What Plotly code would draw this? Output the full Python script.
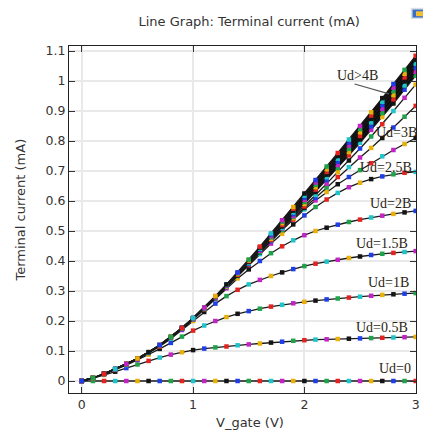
import plotly.graph_objects as go

# ---------------- data ----------------
V_GATE = [0.0, 0.1, 0.2, 0.3, 0.4, 0.5, 0.6, 0.7, 0.8, 0.9, 1.0,
          1.1, 1.2, 1.3, 1.4, 1.5, 1.6, 1.7, 1.8, 1.9, 2.0,
          2.1, 2.2, 2.3, 2.4, 2.5, 2.6, 2.7, 2.8, 2.9, 3.0]

UD_0 = [0, 0, 0, 0, 0, 0, 0, 0, 0, 0, 0, 0, 0, 0, 0, 0,
        0, 0, 0, 0, 0, 0, 0, 0, 0, 0, 0, 0, 0, 0, 0]
UD_0_5 = [0, .009, .020, .031, .043, .055, .067, .078, .088, .096, .103,
          .108, .112, .115, .119, .122, .125, .128, .131, .134, .136,
          .138, .139, .140, .141, .142, .143, .144, .145, .146, .147]
UD_1 = [0, .010, .023, .037, .053, .070, .088, .107, .127, .148, .168,
        .185, .200, .213, .224, .233, .241, .248, .254, .259, .264,
        .268, .272, .275, .278, .281, .284, .287, .289, .291, .293]
UD_1_5 = [0, .010, .023, .038, .055, .073, .093, .115, .141, .170, .200,
          .230, .258, .283, .304, .322, .337, .350, .362, .373, .383,
          .391, .398, .404, .410, .415, .420, .424, .427, .430, .433]
UD_2 = [0, .010, .024, .039, .056, .074, .094, .117, .144, .173, .205,
        .240, .275, .309, .342, .372, .400, .426, .449, .469, .486,
        .500, .511, .521, .530, .538, .545, .551, .557, .562, .567]
UD_2_5 = [0, .010, .024, .039, .056, .074, .095, .118, .145, .174, .206,
          .240, .276, .313, .350, .387, .423, .458, .491, .522, .552,
          .580, .605, .627, .646, .661, .673, .682, .689, .694, .697]
UD_3 = [0, .010, .024, .040, .056, .075, .095, .118, .145, .175, .207,
        .241, .277, .315, .353, .391, .429, .466, .503, .538, .572,
        .602, .630, .656, .680, .703, .726, .749, .770, .790, .810]
UD_3_5 = [0, .010, .024, .040, .057, .075, .095, .119, .146, .175, .208,
          .242, .278, .316, .354, .393, .432, .470, .508, .543, .577,
          .611, .645, .680, .713, .745, .777, .810, .845, .881, .917]
UD_4 = [0, .010, .024, .040, .057, .075, .096, .119, .146, .176, .208,
        .243, .279, .317, .356, .395, .434, .473, .511, .547, .582,
        .620, .658, .696, .735, .775, .815, .856, .900, .944, .988]
# Ud > 4 B : bundle of curves
UD_GT4_A = [0, .010, .024, .040, .057, .075, .096, .119, .146, .176, .209,
            .243, .278, .314, .352, .390, .430, .470, .510, .550, .590,
            .630, .670, .710, .752, .794, .837, .880, .925, .971, 1.018]
UD_GT4_B = [0, .010, .024, .040, .057, .075, .096, .120, .147, .177, .209,
            .244, .280, .316, .354, .393, .434, .474, .515, .556, .597,
            .638, .679, .720, .763, .805, .849, .893, .939, .985, 1.031]
UD_GT4_C = [0, .010, .024, .040, .057, .075, .096, .120, .147, .177, .210,
            .244, .281, .318, .357, .397, .438, .479, .520, .562, .604,
            .646, .688, .731, .774, .817, .862, .907, .953, .999, 1.045]
UD_GT4_D = [0, .010, .024, .040, .057, .075, .096, .120, .147, .177, .210,
            .245, .282, .320, .359, .400, .441, .483, .526, .568, .611,
            .654, .697, .741, .785, .829, .874, .920, .966, 1.012, 1.058]
UD_GT4_E = [0, .010, .024, .040, .057, .075, .096, .120, .147, .177, .210,
            .245, .283, .321, .361, .402, .445, .488, .531, .574, .618,
            .662, .706, .750, .795, .840, .885, .931, .978, 1.024, 1.071]
UD_GT4_F = [0, .010, .024, .040, .057, .075, .096, .120, .147, .177, .210,
            .245, .283, .322, .362, .405, .448, .492, .536, .580, .625,
            .670, .715, .760, .805, .850, .896, .943, .990, 1.037, 1.084]

CURVES = [UD_0, UD_0_5, UD_1, UD_1_5, UD_2, UD_2_5, UD_3, UD_3_5, UD_4,
          UD_GT4_A, UD_GT4_B, UD_GT4_C, UD_GT4_D, UD_GT4_E, UD_GT4_F]

LABELS = ["Ud>4B", "Ud=3B", "Ud=2.5B", "Ud=2B", "Ud=1.5B", "Ud=1B", "Ud=0.5B", "Ud=0"]
LABEL_X = [2.478, 2.832, 2.735, 2.77, 2.70, 2.752, 2.70, 2.814]
LABEL_Y = [1.017, 0.830, 0.713, 0.593, 0.460, 0.327, 0.180, 0.043]

X_TICKS = [0, 1, 2, 3]
Y_TICKS = [0, 0.1, 0.2, 0.3, 0.4, 0.5, 0.6, 0.7, 0.8, 0.9, 1.0, 1.1]

# ---------------- styling ----------------
CYCLE = ["#1f3fe6", "#1ea34a", "#e3231f", "#1fc4c8", "#c123c4", "#e8b00a", "#141414"]

fig = go.Figure()

# solid dark band behind the Ud>4 bundle
fig.add_trace(go.Scatter(x=V_GATE, y=UD_GT4_A, mode="lines",
                         line=dict(width=0, color="rgba(0,0,0,0)"),
                         hoverinfo="skip", showlegend=False))
fig.add_trace(go.Scatter(x=V_GATE, y=UD_GT4_F, mode="lines",
                         line=dict(width=0, color="rgba(0,0,0,0)"),
                         fill="tonexty", fillcolor="#0a0a0a",
                         hoverinfo="skip", showlegend=False))

n = len(V_GATE)
for ci, ys in enumerate(CURVES):
    cols = [CYCLE[(ci * n + j) % 7] for j in range(n)]
    fig.add_trace(go.Scatter(
        x=V_GATE, y=ys, mode="lines+markers",
        line=dict(color="#1a1a1a", width=1.3),
        marker=dict(symbol="square", size=4.5, color=cols, line=dict(width=0)),
        showlegend=False))

annotations = []
for t, x, y in zip(LABELS, LABEL_X, LABEL_Y):
    annotations.append(dict(x=x, y=y, xref="x", yref="y", text=t, showarrow=False,
                            font=dict(family="Liberation Serif, Times New Roman, serif",
                                      size=14, color="#2a1e14"),
                            xanchor="center", yanchor="middle"))

annotations.append(dict(x=0.521, y=-0.085, xref="paper", yref="paper",
                        text="V_gate (V)", showarrow=False,
                        font=dict(family="DejaVu Sans", size=13, color="#333333"),
                        xanchor="center", yanchor="middle"))
annotations.append(dict(x=-0.14, y=0.527, xref="paper", yref="paper",
                        text="Terminal current (mA)", showarrow=False, textangle=-90,
                        font=dict(family="DejaVu Sans", size=13, color="#333333"),
                        xanchor="center", yanchor="middle"))

shapes = [
    dict(type="line", xref="x", yref="y", x0=2.451, y0=0.99, x1=2.761, y1=0.957,
         line=dict(color="#555555", width=1.2)),
    dict(type="rect", xref="paper", yref="paper", x0=0.985, x1=1.02, y0=1.078, y1=1.11,
         fillcolor="#d8dde6", line=dict(width=0)),
    dict(type="rect", xref="paper", yref="paper", x0=0.99, x1=1.02, y0=1.082, y1=1.105,
         fillcolor="#3a6fc4", line=dict(width=0)),
    dict(type="rect", xref="paper", yref="paper", x0=1.0, x1=1.02, y0=1.086, y1=1.1,
         fillcolor="#f0c030", line=dict(width=0)),
]

fig.update_layout(
    width=426, height=432,
    margin=dict(l=69, r=6, t=46, b=39),
    paper_bgcolor="white", plot_bgcolor="white",
    title=dict(text="Line Graph: Terminal current (mA)", x=0.585, xanchor="center",
               y=0.951, yanchor="middle", yref="container",
               font=dict(family="DejaVu Sans", size=13, color="#333333")),
    annotations=annotations, shapes=shapes,
    showlegend=False,
)
fig.update_xaxes(range=[-0.115, 3.003], tickvals=X_TICKS, ticktext=[str(v) for v in X_TICKS],
                 showgrid=True, gridcolor="#e9e9e9", gridwidth=2,
                 zeroline=False, showline=True, linecolor="#222222", linewidth=1,
                 mirror="ticks", ticks="inside", ticklen=6, tickcolor="#333333",
                 tickfont=dict(family="DejaVu Sans", size=12.5, color="#333333"))
fig.update_yaxes(range=[-0.04, 1.1167], tickvals=Y_TICKS,
                 ticktext=["0", "0.1", "0.2", "0.3", "0.4", "0.5", "0.6", "0.7", "0.8", "0.9", "1", "1.1"],
                 showgrid=True, gridcolor="#e9e9e9", gridwidth=2,
                 zeroline=False, showline=True, linecolor="#222222", linewidth=1,
                 mirror="ticks", ticks="inside", ticklen=6, tickcolor="#333333",
                 tickfont=dict(family="DejaVu Sans", size=12.5, color="#333333"))

fig.write_html("out.html", config={"displayModeBar": False},
               post_script="document.body.style.margin='0';document.body.style.overflow='hidden';")
